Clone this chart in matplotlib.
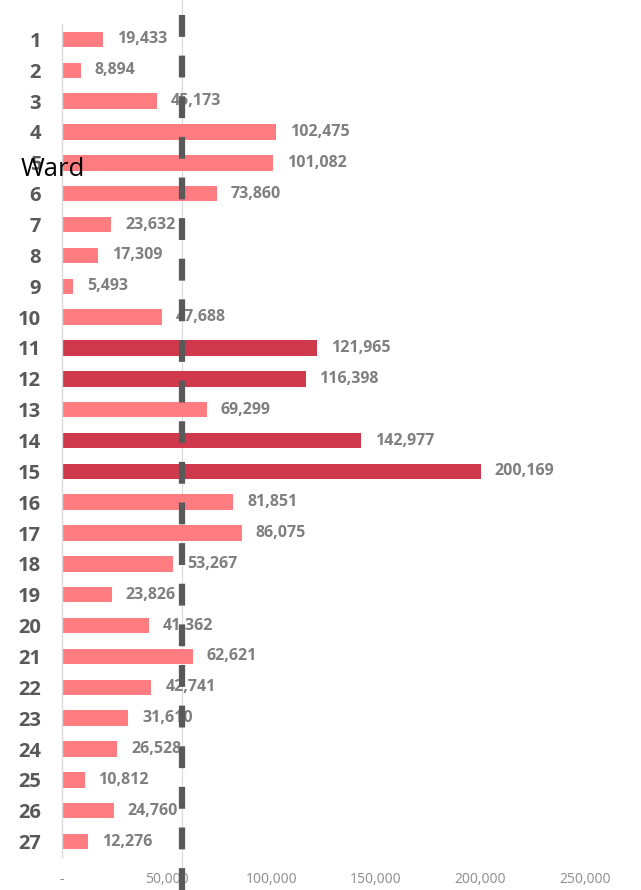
import matplotlib.pyplot as plt
from matplotlib.ticker import FuncFormatter

wards = [str(i) for i in range(1, 28)]
values = [19433, 8894, 45173, 102475, 101082, 73860, 23632, 17309, 5493,
          47688, 121965, 116398, 69299, 142977, 200169, 81851, 86075, 53267,
          23826, 41362, 62621, 42741, 31610, 26528, 10812, 24760, 12276]
highlight = ["11", "12", "14", "15"]
ref_line = 57300
x_ticks = [0, 50000, 100000, 150000, 200000, 250000]

LIGHT = "#FF7C80"
DARK = "#D0394B"

plt.rcParams["font.family"] = ["Open Sans", "DejaVu Sans"]

fig = plt.figure(figsize=(6.41, 8.90), dpi=100)
ax = fig.add_axes([62 / 641, 1 - 857 / 890, (585 - 62) / 641, 833 / 890])

colors = [DARK if w in highlight else LIGHT for w in wards]
ypos = list(range(len(wards)))
ax.barh(ypos, values, height=0.5, color=colors, zorder=2)

for y, v in zip(ypos, values):
    ax.annotate(f"{v:,}", (v, y), xytext=(10, 0), textcoords="offset points",
                ha="left", va="center", fontsize=11.5, fontweight="bold",
                color="#7F7F7F", zorder=3)

ax.set_ylim(len(wards) - 0.5, -0.5)
ax.set_xlim(0, 250000)
ax.set_yticks(ypos)
ax.set_yticklabels(wards, fontsize=14.5, fontweight="bold", color="#595959")
ax.tick_params(axis="y", length=0, pad=15)

ax.set_xticks(x_ticks)
ax.xaxis.set_major_formatter(FuncFormatter(lambda v, p: "-" if v == 0 else f"{int(v):,}"))
ax.tick_params(axis="x", length=0, pad=11, labelsize=10, labelcolor="#8C8C8C")

for s in ["top", "right", "bottom"]:
    ax.spines[s].set_visible(False)
ax.spines["left"].set_color("#D9D9D9")
ax.spines["left"].set_linewidth(1)

# reference line, runs past the plot area
ax.axvline(ref_line, ymin=-0.04, ymax=1.03, color="#D9D9D9", lw=0.8, clip_on=False, zorder=1)
ax.axvline(ref_line, ymin=-0.04, ymax=1.03, color="#595959", lw=4.5,
           linestyle=(0, (3.5, 3)), clip_on=False, zorder=4)

fig.text(53 / 641, 1 - 169 / 890, "Ward", ha="center", va="center",
         fontsize=18.5, color="black")

fig.savefig("out.png", dpi=100)
